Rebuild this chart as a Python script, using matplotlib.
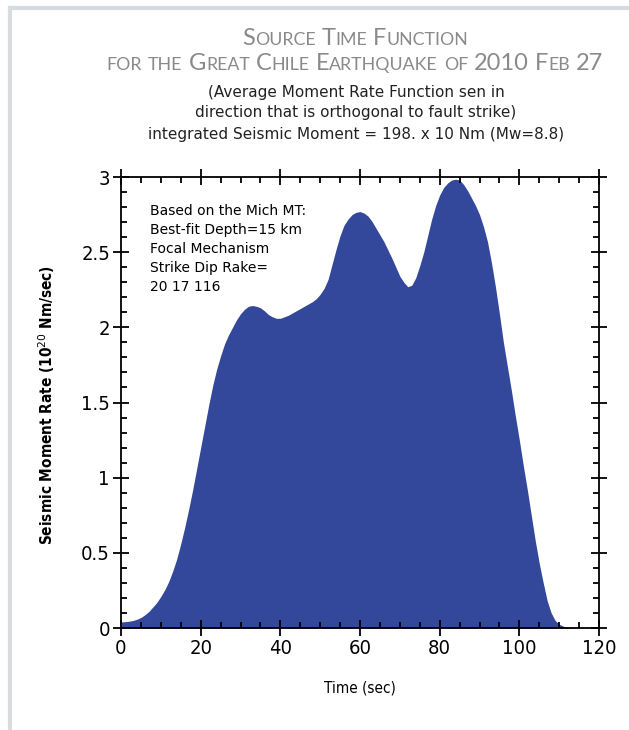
import matplotlib
matplotlib.use("Agg")
import matplotlib.pyplot as plt
from matplotlib.ticker import MultipleLocator
from matplotlib.lines import Line2D

# source time function (1 s steps)
time_s = list(range(0, 117)) + [120]
moment_rate = [
    0.04, 0.042, 0.045, 0.05, 0.058, 0.07, 0.088, 0.11, 0.14, 0.17,
    0.21, 0.255, 0.31, 0.38, 0.46, 0.56, 0.67, 0.79, 0.92, 1.06,
    1.2, 1.34, 1.48, 1.61, 1.72, 1.81, 1.89, 1.95, 2.0, 2.05,
    2.09, 2.12, 2.14, 2.145, 2.14, 2.13, 2.11, 2.085, 2.07, 2.06,
    2.06, 2.07, 2.08, 2.095, 2.11, 2.125, 2.14, 2.155, 2.17, 2.19,
    2.22, 2.26, 2.32, 2.42, 2.52, 2.61, 2.68, 2.72, 2.75, 2.765,
    2.77, 2.76, 2.74, 2.705, 2.66, 2.615, 2.57, 2.515, 2.46, 2.4,
    2.34, 2.3, 2.27, 2.28, 2.33, 2.41, 2.5, 2.61, 2.72, 2.81,
    2.88, 2.93, 2.96, 2.98, 2.985, 2.98, 2.95, 2.91, 2.86, 2.81,
    2.75, 2.67, 2.57, 2.43, 2.27, 2.09, 1.9, 1.74, 1.58, 1.41,
    1.25, 1.08, 0.92, 0.75, 0.58, 0.43, 0.3, 0.18, 0.1, 0.05,
    0.025, 0.012, 0.006, 0.003, 0.001, 0.0, 0.0, 0.0]

x_ticks = [0, 20, 40, 60, 80, 100, 120]
y_ticks = [0, 0.5, 1, 1.5, 2, 2.5, 3]
y_tick_labels = ["0", "0.5", "1", "1.5", "2", "2.5", "3"]

title_lines = ["Source Time Function", "for the Great Chile Earthquake of 2010 Feb 27"]
sub_lines = ["(Average Moment Rate Function sen in",
             "direction that is orthogonal to fault strike)",
             "integrated Seismic Moment = 198. x 10 Nm (Mw=8.8)"]
note_lines = ["Based on the Mich MT:", "Best-fit Depth=15 km", "Focal Mechanism",
              "Strike Dip Rake=", "20 17 116"]

W, H = 629, 730
fig = plt.figure(figsize=(W / 100, H / 100), dpi=100)
fig.patch.set_facecolor("white")

# light frame on top and left side
fig.add_artist(Line2D([10 / W, 10 / W], [0, 1 - 8 / H], color="#d9dcdf", lw=3))
fig.add_artist(Line2D([10 / W, 1], [1 - 8 / H, 1 - 8 / H], color="#d9dcdf", lw=3))


def small_caps(text, xc, y_px, big, small, color, family):
    r = fig.canvas.get_renderer()
    runs = []
    for ch in text:
        kind = "s" if ch.islower() else ("sp" if ch == " " else "b")
        if runs and runs[-1][1] == kind:
            runs[-1][0] += ch
        else:
            runs.append([ch, kind])
    probe1 = fig.text(0, 0, "I I", fontsize=big, family=family)
    probe2 = fig.text(0, 0, "II", fontsize=big, family=family)
    space_w = probe1.get_window_extent(r).width - probe2.get_window_extent(r).width
    probe1.remove()
    probe2.remove()
    items = []
    total = 0
    for s, kind in runs:
        if kind == "sp":
            items.append((None, space_w * len(s)))
            total += space_w * len(s)
            continue
        t = fig.text(0, 1 - y_px / H, s.upper(), fontsize=small if kind == "s" else big,
                     family=family, color=color, va="baseline", ha="left")
        w = t.get_window_extent(r).width
        items.append((t, w))
        total += w
    x = xc - total / 2
    for t, w in items:
        if t is not None:
            t.set_x(x / W)
        x += w


small_caps(title_lines[0], 355, 45, 17, 12.8, "#8a8a8a", "Lato")
small_caps(title_lines[1], 355, 70, 17, 12.8, "#8a8a8a", "Lato")
for i, line in enumerate(sub_lines):
    fig.text(356 / W, 1 - (92 + 21 * i) / H, line, ha="center", va="center",
             fontsize=11, color="#222222", family="DejaVu Sans")

ax = fig.add_axes([121 / W, 1 - 628 / H, 478 / W, 451 / H])
ax.fill_between(time_s, moment_rate, 0, color="#33479b", lw=0)
ax.set_xlim(0, 120)
ax.set_ylim(0, 3)
ax.set_xticks(x_ticks)
ax.set_yticks(y_ticks)
ax.set_yticklabels(y_tick_labels)
ax.xaxis.set_minor_locator(MultipleLocator(5))
ax.yaxis.set_minor_locator(MultipleLocator(0.1))
ax.tick_params(which="major", direction="inout", length=12, width=1.3,
               top=True, right=True, labelsize=14.5, pad=2, colors="black")
ax.tick_params(which="minor", direction="in", length=4, width=1.3, top=True, right=True)
for lab in ax.get_xticklabels() + ax.get_yticklabels():
    lab.set_fontstretch("condensed")
for sp in ax.spines.values():
    sp.set_linewidth(1.3)

for i, line in enumerate(note_lines):
    fig.text(150 / W, 1 - (211 + 19 * i) / H, line, ha="left", va="center",
             fontsize=10, color="black", family="DejaVu Sans")

fig.text(360 / W, 1 - 688 / H, "Time (sec)", ha="center", va="center", fontsize=11,
         family="DejaVu Sans", stretch="condensed")
fig.text(47 / W, 1 - 405 / H, "Seismic Moment Rate (10$^{20}$ Nm/sec)", rotation=90,
         ha="center", va="center", fontsize=11, weight="semibold", family="DejaVu Sans",
         stretch="condensed")

fig.savefig("out.png", dpi=100)
plt.close(fig)
